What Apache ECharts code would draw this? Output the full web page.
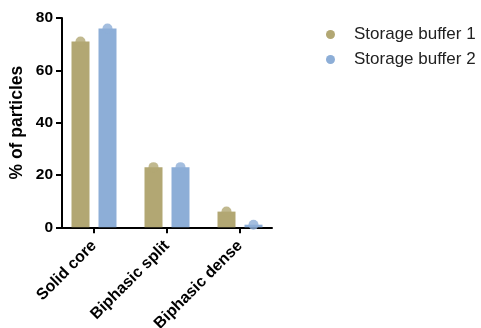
<!DOCTYPE html>
<html>
<head>
<meta charset="utf-8">
<style>
  html, body { margin: 0; padding: 0; background: #fff; }
  #chart { width: 481px; height: 328px; }
</style>
<script src="https://cdn.jsdelivr.net/npm/echarts@6/dist/echarts.min.js"></script>
</head>
<body>
<div id="chart"></div>
<script>
// Particle morphology by storage buffer
const categories = ['Solid core', 'Biphasic split', 'Biphasic dense'];
const seriesNames = ['Storage buffer 1', 'Storage buffer 2'];
const buffer1Mean = [71, 23, 6];
const buffer2Mean = [76, 23, 1];
const buffer1Points = [71, 23, 6];
const buffer2Points = [76, 23, 1];
const yTicks = [0, 20, 40, 60, 80];

const colors = ['#B2A773', '#8DAED7'];
const FONT = 'Liberation Sans, Arial, Helvetica, sans-serif';

const chart = echarts.init(document.getElementById('chart'), null, { renderer: 'canvas' });

const barWidth = 18;
const dotOffset = 13.5;

chart.setOption({
  backgroundColor: '#fff',
  animation: false,
  legend: {
    orient: 'vertical',
    left: 321,
    top: 21,
    itemWidth: 9,
    itemHeight: 9,
    itemGap: 8,
    icon: 'circle',
    data: seriesNames,
    textStyle: {
      fontFamily: FONT,
      fontSize: 17,
      color: '#222',
      padding: [0, 0, 0, 14]
    }
  },
  grid: [
    { left: 57.5, width: 219, top: 18, height: 209.3, outerBoundsMode: 'none', containLabel: false },
    { left: 62, width: 210, top: 18, height: 209.3, outerBoundsMode: 'none', containLabel: false }
  ],
  xAxis: [
    {
      type: 'category',
      gridIndex: 0,
      data: categories,
      axisLine: { show: false },
      axisTick: { show: true, alignWithLabel: true, length: 6, lineStyle: { color: '#000', width: 2 } },
      axisLabel: {
        rotate: 45,
        margin: 16,
        fontFamily: FONT,
        fontSize: 16,
        fontWeight: 'bold',
        color: '#000'
      }
    },
    {
      type: 'value',
      gridIndex: 1,
      min: 0, max: 1,
      axisLine: { show: true, lineStyle: { color: '#000', width: 2 } },
      axisTick: { show: false },
      axisLabel: { show: false },
      splitLine: { show: false }
    }
  ],
  yAxis: [
    {
      type: 'value',
      gridIndex: 0,
      min: yTicks[0],
      max: yTicks[yTicks.length - 1],
      interval: 20,
      offset: -4.5,
      name: '% of particles',
      nameLocation: 'middle',
      nameRotate: 90,
      nameGap: 36,
      nameTextStyle: { fontFamily: FONT, fontSize: 17.5, fontWeight: 'bold', color: '#000' },
      axisLine: { show: true, lineStyle: { color: '#000', width: 2 } },
      axisTick: { show: true, length: 6, lineStyle: { color: '#000', width: 2 } },
      axisLabel: { margin: 9, fontFamily: FONT, fontSize: 15.5, fontWeight: 'bold', color: '#000' },
      splitLine: { show: false }
    },
    {
      type: 'value',
      gridIndex: 1,
      show: false,
      min: 0, max: 1
    }
  ],
  series: [
    {
      name: seriesNames[0],
      type: 'bar',
      xAxisIndex: 0, yAxisIndex: 0,
      data: buffer1Mean,
      barWidth: barWidth,
      barGap: '50%',
      itemStyle: { color: colors[0] },
      z: 2
    },
    {
      name: seriesNames[1],
      type: 'bar',
      xAxisIndex: 0, yAxisIndex: 0,
      data: buffer2Mean,
      barWidth: barWidth,
      barGap: '50%',
      itemStyle: { color: colors[1] },
      z: 2
    },
    {
      name: seriesNames[0],
      type: 'scatter',
      xAxisIndex: 0, yAxisIndex: 0,
      data: buffer1Points,
      symbol: 'circle',
      symbolSize: 10,
      symbolOffset: [-dotOffset, 0],
      itemStyle: { color: colors[0] },
      z: 3
    },
    {
      name: seriesNames[1],
      type: 'scatter',
      xAxisIndex: 0, yAxisIndex: 0,
      data: buffer2Points,
      symbol: 'circle',
      symbolSize: 10,
      symbolOffset: [dotOffset, 0],
      itemStyle: { color: colors[1] },
      z: 3
    }
  ]
});
</script>
</body>
</html>
